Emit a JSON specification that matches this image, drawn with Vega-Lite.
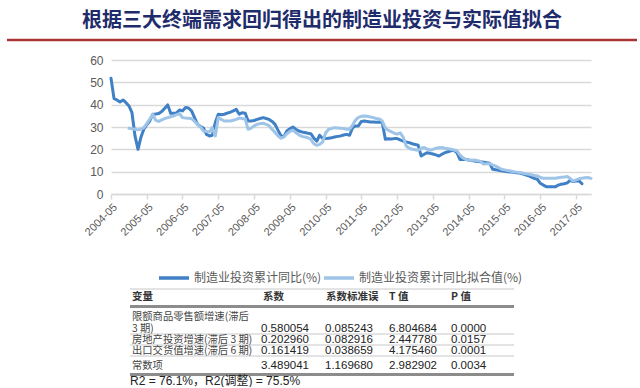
{
  "$schema": "https://vega.github.io/schema/vega-lite/v6.json",
  "padding": {"left": 5, "right": 5, "top": 10, "bottom": 0},
  "background": "white",
  "title": {"text": "根据三大终端需求回归得出的制造业投资与实际值拟合", "font": "Noto Sans CJK SC", "fontSize": 20, "fontWeight": "bold", "color": "#1F2C6B", "anchor": "middle", "offset": 8},
  "config": {"view": {"stroke": null}},
  "spacing": 7,
  "datasets": {
    "lines": [
      {"m": "2004-05", "制造业投资累计同比(%)": 51.8},
      {"m": "2004-06", "制造业投资累计同比(%)": 42.7},
      {"m": "2004-07", "制造业投资累计同比(%)": 42.1},
      {"m": "2004-08", "制造业投资累计同比(%)": 41.2},
      {"m": "2004-09", "制造业投资累计同比(%)": 42.1},
      {"m": "2004-10", "制造业投资累计同比(%)": 40.9},
      {"m": "2004-11", "制造业投资累计同比(%)": 39.4, "制造业投资累计同比拟合值(%)": 29.4},
      {"m": "2004-12", "制造业投资累计同比(%)": 36.4, "制造业投资累计同比拟合值(%)": 29.2},
      {"m": "2005-01", "制造业投资累计同比(%)": 26.0, "制造业投资累计同比拟合值(%)": 29.0},
      {"m": "2005-02", "制造业投资累计同比(%)": 20.0, "制造业投资累计同比拟合值(%)": 28.7},
      {"m": "2005-03", "制造业投资累计同比(%)": 25.2, "制造业投资累计同比拟合值(%)": 29.0},
      {"m": "2005-04", "制造业投资累计同比(%)": 29.0, "制造业投资累计同比拟合值(%)": 29.7},
      {"m": "2005-05", "制造业投资累计同比(%)": 31.0, "制造业投资累计同比拟合值(%)": 31.5},
      {"m": "2005-06", "制造业投资累计同比(%)": 32.7, "制造业投资累计同比拟合值(%)": 33.5},
      {"m": "2005-07", "制造业投资累计同比(%)": 35.7, "制造业投资累计同比拟合值(%)": 35.7},
      {"m": "2005-08", "制造业投资累计同比(%)": 35.8, "制造业投资累计同比拟合值(%)": 33.0},
      {"m": "2005-09", "制造业投资累计同比(%)": 36.0, "制造业投资累计同比拟合值(%)": 32.5},
      {"m": "2005-10", "制造业投资累计同比(%)": 36.9, "制造业投资累计同比拟合值(%)": 33.2},
      {"m": "2005-11", "制造业投资累计同比(%)": 38.4, "制造业投资累计同比拟合值(%)": 33.8},
      {"m": "2005-12", "制造业投资累计同比(%)": 39.9, "制造业投资累计同比拟合值(%)": 34.2},
      {"m": "2006-01", "制造业投资累计同比(%)": 36.1, "制造业投资累计同比拟合值(%)": 34.6},
      {"m": "2006-02", "制造业投资累计同比(%)": 36.2, "制造业投资累计同比拟合值(%)": 35.0},
      {"m": "2006-03", "制造业投资累计同比(%)": 36.3, "制造业投资累计同比拟合值(%)": 35.5},
      {"m": "2006-04", "制造业投资累计同比(%)": 37.6, "制造业投资累计同比拟合值(%)": 36.0},
      {"m": "2006-05", "制造业投资累计同比(%)": 37.2, "制造业投资累计同比拟合值(%)": 34.2},
      {"m": "2006-06", "制造业投资累计同比(%)": 38.7, "制造业投资累计同比拟合值(%)": 34.0},
      {"m": "2006-07", "制造业投资累计同比(%)": 38.5, "制造业投资累计同比拟合值(%)": 33.9},
      {"m": "2006-08", "制造业投资累计同比(%)": 37.2, "制造业投资累计同比拟合值(%)": 33.8},
      {"m": "2006-09", "制造业投资累计同比(%)": 34.2, "制造业投资累计同比拟合值(%)": 32.5},
      {"m": "2006-10", "制造业投资累计同比(%)": 31.2, "制造业投资累计同比拟合值(%)": 31.2},
      {"m": "2006-11", "制造业投资累计同比(%)": 30.2, "制造业投资累计同比拟合值(%)": 30.0},
      {"m": "2006-12", "制造业投资累计同比(%)": 29.5, "制造业投资累计同比拟合值(%)": 28.2},
      {"m": "2007-01", "制造业投资累计同比(%)": 26.7, "制造业投资累计同比拟合值(%)": 28.0},
      {"m": "2007-02", "制造业投资累计同比(%)": 26.0, "制造业投资累计同比拟合值(%)": 27.9},
      {"m": "2007-03", "制造业投资累计同比(%)": 26.3, "制造业投资累计同比拟合值(%)": 29.7},
      {"m": "2007-04", "制造业投资累计同比(%)": 32.0, "制造业投资累计同比拟合值(%)": 26.0},
      {"m": "2007-05", "制造业投资累计同比(%)": 35.7, "制造业投资累计同比拟合值(%)": 34.2},
      {"m": "2007-06", "制造业投资累计同比(%)": 35.5, "制造业投资累计同比拟合值(%)": 33.4},
      {"m": "2007-07", "制造业投资累计同比(%)": 35.7, "制造业投资累计同比拟合值(%)": 32.7},
      {"m": "2007-08", "制造业投资累计同比(%)": 36.2, "制造业投资累计同比拟合值(%)": 32.7},
      {"m": "2007-09", "制造业投资累计同比(%)": 36.6, "制造业投资累计同比拟合值(%)": 32.7},
      {"m": "2007-10", "制造业投资累计同比(%)": 37.2, "制造业投资累计同比拟合值(%)": 33.0},
      {"m": "2007-11", "制造业投资累计同比(%)": 37.9, "制造业投资累计同比拟合值(%)": 33.4},
      {"m": "2007-12", "制造业投资累计同比(%)": 35.7, "制造业投资累计同比拟合值(%)": 34.0},
      {"m": "2008-01", "制造业投资累计同比(%)": 36.4, "制造业投资累计同比拟合值(%)": 33.8},
      {"m": "2008-02", "制造业投资累计同比(%)": 36.2, "制造业投资累计同比拟合值(%)": 33.5},
      {"m": "2008-03", "制造业投资累计同比(%)": 32.7, "制造业投资累计同比拟合值(%)": 29.0},
      {"m": "2008-04", "制造业投资累计同比(%)": 32.7, "制造业投资累计同比拟合值(%)": 29.5},
      {"m": "2008-05", "制造业投资累计同比(%)": 32.9, "制造业投资累计同比拟合值(%)": 30.5},
      {"m": "2008-06", "制造业投资累计同比(%)": 33.4, "制造业投资累计同比拟合值(%)": 31.2},
      {"m": "2008-07", "制造业投资累计同比(%)": 33.8, "制造业投资累计同比拟合值(%)": 31.5},
      {"m": "2008-08", "制造业投资累计同比(%)": 34.2, "制造业投资累计同比拟合值(%)": 31.7},
      {"m": "2008-09", "制造业投资累计同比(%)": 33.8, "制造业投资累计同比拟合值(%)": 31.2},
      {"m": "2008-10", "制造业投资累计同比(%)": 33.4, "制造业投资累计同比拟合值(%)": 30.6},
      {"m": "2008-11", "制造业投资累计同比(%)": 32.5, "制造业投资累计同比拟合值(%)": 29.0},
      {"m": "2008-12", "制造业投资累计同比(%)": 31.2, "制造业投资累计同比拟合值(%)": 27.5},
      {"m": "2009-01", "制造业投资累计同比(%)": 28.5, "制造业投资累计同比拟合值(%)": 26.0},
      {"m": "2009-02", "制造业投资累计同比(%)": 26.0, "制造业投资累计同比拟合值(%)": 25.0},
      {"m": "2009-03", "制造业投资累计同比(%)": 25.7, "制造业投资累计同比拟合值(%)": 25.5},
      {"m": "2009-04", "制造业投资累计同比(%)": 28.2, "制造业投资累计同比拟合值(%)": 27.0},
      {"m": "2009-05", "制造业投资累计同比(%)": 29.2, "制造业投资累计同比拟合值(%)": 28.0},
      {"m": "2009-06", "制造业投资累计同比(%)": 30.0, "制造业投资累计同比拟合值(%)": 28.6},
      {"m": "2009-07", "制造业投资累计同比(%)": 29.0, "制造业投资累计同比拟合值(%)": 27.5},
      {"m": "2009-08", "制造业投资累计同比(%)": 28.2, "制造业投资累计同比拟合值(%)": 26.5},
      {"m": "2009-09", "制造业投资累计同比(%)": 27.8, "制造业投资累计同比拟合值(%)": 25.8},
      {"m": "2009-10", "制造业投资累计同比(%)": 27.5, "制造业投资累计同比拟合值(%)": 25.5},
      {"m": "2009-11", "制造业投资累计同比(%)": 27.2, "制造业投资累计同比拟合值(%)": 25.2},
      {"m": "2009-12", "制造业投资累计同比(%)": 27.0, "制造业投资累计同比拟合值(%)": 24.5},
      {"m": "2010-01", "制造业投资累计同比(%)": 25.0, "制造业投资累计同比拟合值(%)": 22.5},
      {"m": "2010-02", "制造业投资累计同比(%)": 23.7, "制造业投资累计同比拟合值(%)": 21.8},
      {"m": "2010-03", "制造业投资累计同比(%)": 26.3, "制造业投资累计同比拟合值(%)": 22.2},
      {"m": "2010-04", "制造业投资累计同比(%)": 24.8, "制造业投资累计同比拟合值(%)": 23.3},
      {"m": "2010-05", "制造业投资累计同比(%)": 24.8, "制造业投资累计同比拟合值(%)": 27.3},
      {"m": "2010-06", "制造业投资累计同比(%)": 25.0, "制造业投资累计同比拟合值(%)": 29.0},
      {"m": "2010-07", "制造业投资累计同比(%)": 25.2, "制造业投资累计同比拟合值(%)": 29.3},
      {"m": "2010-08", "制造业投资累计同比(%)": 25.5, "制造业投资累计同比拟合值(%)": 29.7},
      {"m": "2010-09", "制造业投资累计同比(%)": 25.8, "制造业投资累计同比拟合值(%)": 29.6},
      {"m": "2010-10", "制造业投资累计同比(%)": 26.0, "制造业投资累计同比拟合值(%)": 29.4},
      {"m": "2010-11", "制造业投资累计同比(%)": 26.4, "制造业投资累计同比拟合值(%)": 29.3},
      {"m": "2010-12", "制造业投资累计同比(%)": 26.7, "制造业投资累计同比拟合值(%)": 29.0},
      {"m": "2011-01", "制造业投资累计同比(%)": 26.3, "制造业投资累计同比拟合值(%)": 29.0},
      {"m": "2011-02", "制造业投资累计同比(%)": 29.7, "制造业投资累计同比拟合值(%)": 30.8},
      {"m": "2011-03", "制造业投资累计同比(%)": 30.5, "制造业投资累计同比拟合值(%)": 33.0},
      {"m": "2011-04", "制造业投资累计同比(%)": 30.5, "制造业投资累计同比拟合值(%)": 34.3},
      {"m": "2011-05", "制造业投资累计同比(%)": 32.5, "制造业投资累计同比拟合值(%)": 34.8},
      {"m": "2011-06", "制造业投资累计同比(%)": 32.7, "制造业投资累计同比拟合值(%)": 34.9},
      {"m": "2011-07", "制造业投资累计同比(%)": 32.5, "制造业投资累计同比拟合值(%)": 34.8},
      {"m": "2011-08", "制造业投资累计同比(%)": 32.2, "制造业投资累计同比拟合值(%)": 34.5},
      {"m": "2011-09", "制造业投资累计同比(%)": 32.2, "制造业投资累计同比拟合值(%)": 34.2},
      {"m": "2011-10", "制造业投资累计同比(%)": 32.1, "制造业投资累计同比拟合值(%)": 33.8},
      {"m": "2011-11", "制造业投资累计同比(%)": 32.2, "制造业投资累计同比拟合值(%)": 33.6},
      {"m": "2011-12", "制造业投资累计同比(%)": 32.0, "制造业投资累计同比拟合值(%)": 32.7},
      {"m": "2012-01", "制造业投资累计同比(%)": 24.5, "制造业投资累计同比拟合值(%)": 29.5},
      {"m": "2012-02", "制造业投资累计同比(%)": 24.7, "制造业投资累计同比拟合值(%)": 28.5},
      {"m": "2012-03", "制造业投资累计同比(%)": 24.6, "制造业投资累计同比拟合值(%)": 27.9},
      {"m": "2012-04", "制造业投资累计同比(%)": 24.8, "制造业投资累计同比拟合值(%)": 27.2},
      {"m": "2012-05", "制造业投资累计同比(%)": 24.8, "制造业投资累计同比拟合值(%)": 26.8},
      {"m": "2012-06", "制造业投资累计同比(%)": 24.2, "制造业投资累计同比拟合值(%)": 27.4},
      {"m": "2012-07", "制造业投资累计同比(%)": 23.7, "制造业投资累计同比拟合值(%)": 25.5},
      {"m": "2012-08", "制造业投资累计同比(%)": 23.3, "制造业投资累计同比拟合值(%)": 21.5},
      {"m": "2012-09", "制造业投资累计同比(%)": 23.0, "制造业投资累计同比拟合值(%)": 20.5},
      {"m": "2012-10", "制造业投资累计同比(%)": 22.5, "制造业投资累计同比拟合值(%)": 20.0},
      {"m": "2012-11", "制造业投资累计同比(%)": 22.2, "制造业投资累计同比拟合值(%)": 19.8},
      {"m": "2012-12", "制造业投资累计同比(%)": 21.9, "制造业投资累计同比拟合值(%)": 19.6},
      {"m": "2013-01", "制造业投资累计同比(%)": 17.0, "制造业投资累计同比拟合值(%)": 20.5},
      {"m": "2013-02", "制造业投资累计同比(%)": 17.8, "制造业投资累计同比拟合值(%)": 20.8},
      {"m": "2013-03", "制造业投资累计同比(%)": 18.5, "制造业投资累计同比拟合值(%)": 20.2},
      {"m": "2013-04", "制造业投资累计同比(%)": 18.2, "制造业投资累计同比拟合值(%)": 19.6},
      {"m": "2013-05", "制造业投资累计同比(%)": 17.9, "制造业投资累计同比拟合值(%)": 20.0},
      {"m": "2013-06", "制造业投资累计同比(%)": 17.5, "制造业投资累计同比拟合值(%)": 20.5},
      {"m": "2013-07", "制造业投资累计同比(%)": 17.0, "制造业投资累计同比拟合值(%)": 20.7},
      {"m": "2013-08", "制造业投资累计同比(%)": 17.8, "制造业投资累计同比拟合值(%)": 20.8},
      {"m": "2013-09", "制造业投资累计同比(%)": 18.5, "制造业投资累计同比拟合值(%)": 20.5},
      {"m": "2013-10", "制造业投资累计同比(%)": 18.9, "制造业投资累计同比拟合值(%)": 20.3},
      {"m": "2013-11", "制造业投资累计同比(%)": 19.3, "制造业投资累计同比拟合值(%)": 20.0},
      {"m": "2013-12", "制造业投资累计同比(%)": 19.6, "制造业投资累计同比拟合值(%)": 19.7},
      {"m": "2014-01", "制造业投资累计同比(%)": 18.5, "制造业投资累计同比拟合值(%)": 19.3},
      {"m": "2014-02", "制造业投资累计同比(%)": 15.5, "制造业投资累计同比拟合值(%)": 17.5},
      {"m": "2014-03", "制造业投资累计同比(%)": 15.5, "制造业投资累计同比拟合值(%)": 16.3},
      {"m": "2014-04", "制造业投资累计同比(%)": 15.5, "制造业投资累计同比拟合值(%)": 15.5},
      {"m": "2014-05", "制造业投资累计同比(%)": 15.2, "制造业投资累计同比拟合值(%)": 15.0},
      {"m": "2014-06", "制造业投资累计同比(%)": 15.0, "制造业投资累计同比拟合值(%)": 15.1},
      {"m": "2014-07", "制造业投资累计同比(%)": 14.8, "制造业投资累计同比拟合值(%)": 15.2},
      {"m": "2014-08", "制造业投资累计同比(%)": 14.6, "制造业投资累计同比拟合值(%)": 14.9},
      {"m": "2014-09", "制造业投资累计同比(%)": 14.4, "制造业投资累计同比拟合值(%)": 14.6},
      {"m": "2014-10", "制造业投资累计同比(%)": 14.2, "制造业投资累计同比拟合值(%)": 13.4},
      {"m": "2014-11", "制造业投资累计同比(%)": 14.0, "制造业投资累计同比拟合值(%)": 13.5},
      {"m": "2014-12", "制造业投资累计同比(%)": 13.8, "制造业投资累计同比拟合值(%)": 13.6},
      {"m": "2015-01", "制造业投资累计同比(%)": 11.1, "制造业投资累计同比拟合值(%)": 13.0},
      {"m": "2015-02", "制造业投资累计同比(%)": 10.9, "制造业投资累计同比拟合值(%)": 12.5},
      {"m": "2015-03", "制造业投资累计同比(%)": 10.6, "制造业投资累计同比拟合值(%)": 11.8},
      {"m": "2015-04", "制造业投资累计同比(%)": 10.4, "制造业投资累计同比拟合值(%)": 11.1},
      {"m": "2015-05", "制造业投资累计同比(%)": 10.2, "制造业投资累计同比拟合值(%)": 10.8},
      {"m": "2015-06", "制造业投资累计同比(%)": 10.0, "制造业投资累计同比拟合值(%)": 10.5},
      {"m": "2015-07", "制造业投资累计同比(%)": 9.9, "制造业投资累计同比拟合值(%)": 10.3},
      {"m": "2015-08", "制造业投资累计同比(%)": 9.7, "制造业投资累计同比拟合值(%)": 10.0},
      {"m": "2015-09", "制造业投资累计同比(%)": 9.5, "制造业投资累计同比拟合值(%)": 9.8},
      {"m": "2015-10", "制造业投资累计同比(%)": 9.4, "制造业投资累计同比拟合值(%)": 9.6},
      {"m": "2015-11", "制造业投资累计同比(%)": 9.0, "制造业投资累计同比拟合值(%)": 9.4},
      {"m": "2015-12", "制造业投资累计同比(%)": 8.6, "制造业投资累计同比拟合值(%)": 9.1},
      {"m": "2016-01", "制造业投资累计同比(%)": 8.2, "制造业投资累计同比拟合值(%)": 8.9},
      {"m": "2016-02", "制造业投资累计同比(%)": 7.6, "制造业投资累计同比拟合值(%)": 8.6},
      {"m": "2016-03", "制造业投资累计同比(%)": 7.0, "制造业投资累计同比拟合值(%)": 8.3},
      {"m": "2016-04", "制造业投资累计同比(%)": 6.6, "制造业投资累计同比拟合值(%)": 8.1},
      {"m": "2016-05", "制造业投资累计同比(%)": 4.8, "制造业投资累计同比拟合值(%)": 7.5},
      {"m": "2016-06", "制造业投资累计同比(%)": 4.0, "制造业投资累计同比拟合值(%)": 7.0},
      {"m": "2016-07", "制造业投资累计同比(%)": 3.3, "制造业投资累计同比拟合值(%)": 7.0},
      {"m": "2016-08", "制造业投资累计同比(%)": 3.2, "制造业投资累计同比拟合值(%)": 7.0},
      {"m": "2016-09", "制造业投资累计同比(%)": 3.2, "制造业投资累计同比拟合值(%)": 7.0},
      {"m": "2016-10", "制造业投资累计同比(%)": 3.2, "制造业投资累计同比拟合值(%)": 7.1},
      {"m": "2016-11", "制造业投资累计同比(%)": 4.0, "制造业投资累计同比拟合值(%)": 7.3},
      {"m": "2016-12", "制造业投资累计同比(%)": 4.4, "制造业投资累计同比拟合值(%)": 7.5},
      {"m": "2017-01", "制造业投资累计同比(%)": 4.6, "制造业投资累计同比拟合值(%)": 7.6},
      {"m": "2017-02", "制造业投资累计同比(%)": 5.0, "制造业投资累计同比拟合值(%)": 7.8},
      {"m": "2017-03", "制造业投资累计同比(%)": 6.1, "制造业投资累计同比拟合值(%)": 7.0},
      {"m": "2017-04", "制造业投资累计同比(%)": 5.6, "制造业投资累计同比拟合值(%)": 5.8},
      {"m": "2017-05", "制造业投资累计同比(%)": 5.8, "制造业投资累计同比拟合值(%)": 6.3},
      {"m": "2017-06", "制造业投资累计同比(%)": 5.9, "制造业投资累计同比拟合值(%)": 6.8},
      {"m": "2017-07", "制造业投资累计同比(%)": 4.6, "制造业投资累计同比拟合值(%)": 7.1},
      {"m": "2017-08", "制造业投资累计同比拟合值(%)": 7.3},
      {"m": "2017-09", "制造业投资累计同比拟合值(%)": 7.4},
      {"m": "2017-10", "制造业投资累计同比拟合值(%)": 7.0}
    ],
    "cells": [
      {"line": 1, "col": 0, "t": "变量"},
      {"line": 1, "col": 1, "t": "系数"},
      {"line": 1, "col": 2, "t": "系数标准误"},
      {"line": 1, "col": 3, "t": "T 值"},
      {"line": 1, "col": 4, "t": "P 值"},
      {"line": 3, "col": 0, "t": "限额商品零售额增速(滞后"},
      {"line": 4, "col": 0, "t": "3 期)"},
      {"line": 4, "col": 1, "t": "0.580054"},
      {"line": 4, "col": 2, "t": "0.085243"},
      {"line": 4, "col": 3, "t": "6.804684"},
      {"line": 4, "col": 4, "t": "0.0000"},
      {"line": 6, "col": 0, "t": "房地产投资增速(滞后 3 期)"},
      {"line": 6, "col": 1, "t": "0.202960"},
      {"line": 6, "col": 2, "t": "0.082916"},
      {"line": 6, "col": 3, "t": "2.447780"},
      {"line": 6, "col": 4, "t": "0.0157"},
      {"line": 8, "col": 0, "t": "出口交货值增速(滞后 6 期)"},
      {"line": 8, "col": 1, "t": "0.161419"},
      {"line": 8, "col": 2, "t": "0.038659"},
      {"line": 8, "col": 3, "t": "4.175460"},
      {"line": 8, "col": 4, "t": "0.0001"},
      {"line": 10, "col": 0, "t": "常数项"},
      {"line": 10, "col": 1, "t": "3.489041"},
      {"line": 10, "col": 2, "t": "1.169680"},
      {"line": 10, "col": 3, "t": "2.982902"},
      {"line": 10, "col": 4, "t": "0.0034"},
      {"line": 12, "col": 0, "t": "R2 = 76.1%，R2(调整) = 75.5%"}
    ],
    "rules": [
      {"line": 0}, {"line": 2}, {"line": 5}, {"line": 7}, {"line": 9}, {"line": 11}
    ]
  },
  "vconcat": [
    {
      "width": 526,
      "height": 7,
      "data": {"values": [{}]},
      "mark": {"type": "rule", "color": "#A93434", "strokeWidth": 2.5},
      "encoding": {
        "x": {"datum": 0, "type": "quantitative", "scale": {"domain": [0, 1], "range": [-104, 526]}, "axis": null},
        "x2": {"datum": 1},
        "y": {"datum": 1, "type": "quantitative", "scale": {"domain": [0, 1]}, "axis": null}
      }
    },
    {
      "width": 480,
      "height": 134,
      "data": {"name": "lines", "format": {"parse": {"m": "utc:'%Y-%m'"}}},
      "transform": [
        {"fold": ["制造业投资累计同比(%)", "制造业投资累计同比拟合值(%)"], "as": ["series", "v"]},
        {"filter": "isValid(datum.v)"}
      ],
      "mark": {"type": "line", "strokeWidth": 3, "strokeJoin": "round", "strokeCap": "round"},
      "encoding": {
        "x": {
          "field": "m", "type": "temporal",
          "scale": {"type": "utc", "domain": [{"year": 2004, "month": 5, "date": 1, "utc": true}, {"year": 2017, "month": 10, "date": 1, "utc": true}]},
          "axis": {
            "values": [
              {"year": 2004, "month": 5, "date": 1, "utc": true},
              {"year": 2005, "month": 5, "date": 1, "utc": true},
              {"year": 2006, "month": 5, "date": 1, "utc": true},
              {"year": 2007, "month": 5, "date": 1, "utc": true},
              {"year": 2008, "month": 5, "date": 1, "utc": true},
              {"year": 2009, "month": 5, "date": 1, "utc": true},
              {"year": 2010, "month": 5, "date": 1, "utc": true},
              {"year": 2011, "month": 5, "date": 1, "utc": true},
              {"year": 2012, "month": 5, "date": 1, "utc": true},
              {"year": 2013, "month": 5, "date": 1, "utc": true},
              {"year": 2014, "month": 5, "date": 1, "utc": true},
              {"year": 2015, "month": 5, "date": 1, "utc": true},
              {"year": 2016, "month": 5, "date": 1, "utc": true},
              {"year": 2017, "month": 5, "date": 1, "utc": true}
            ],
            "format": "%Y-%m",
            "labelAngle": -45, "labelFont": "Liberation Sans", "labelFontSize": 11, "labelColor": "#595959",
            "labelOverlap": false, "labelPadding": 2,
            "domainColor": "#D9D9D9", "domainWidth": 1.5,
            "tickColor": "#D9D9D9", "tickWidth": 1.5, "tickSize": 5,
            "grid": false, "title": null
          }
        },
        "y": {
          "field": "v", "type": "quantitative",
          "scale": {"domain": [0, 60], "nice": false},
          "axis": {
            "values": [0, 10, 20, 30, 40, 50, 60],
            "domain": false, "ticks": false, "grid": true, "gridColor": "#D9D9D9", "gridWidth": 1.5,
            "labelFont": "Liberation Sans", "labelFontSize": 12, "labelColor": "#595959", "labelPadding": 8,
            "title": null, "minExtent": 104
          }
        },
        "color": {
          "field": "series", "type": "nominal",
          "scale": {"domain": ["制造业投资累计同比(%)", "制造业投资累计同比拟合值(%)"], "range": ["#3F80C6", "#9EC4E8"]},
          "legend": {
            "orient": "none", "legendX": 46, "legendY": 221, "direction": "horizontal", "title": null,
            "symbolType": "stroke", "symbolSize": 900, "symbolStrokeWidth": 3.5,
            "labelFont": "Noto Sans CJK SC", "labelFontSize": 12, "labelColor": "#595959",
            "labelLimit": 300, "columnPadding": -13, "labelOffset": 3
          }
        }
      }
    },
    {
      "width": 403,
      "height": 92,
      "resolve": {"scale": {"x": "independent"}, "axis": {"x": "independent"}},
      "layer": [
        {
          "data": {"name": "rules"},
          "transform": [{"filter": "datum.line == 2 || datum.line == 11"}],
          "mark": {"type": "rule", "color": "#8C8C8C", "strokeWidth": 3},
          "encoding": {
            "x": {"datum": 0, "type": "quantitative", "scale": {"domain": [0, 1], "range": [19, 403]}, "axis": null},
            "x2": {"datum": 1},
            "y": {"field": "line", "type": "quantitative", "scale": {"domain": [0, 1, 2, 3, 4, 5, 6, 7, 8, 9, 10, 11, 12], "range": [0, 7.5, 17.5, 28, 40, 45, 51, 56, 61.5, 67, 77, 85.5, 92], "nice": false, "zero": false}, "axis": null}
          }
        },
        {
          "data": {"name": "rules"},
          "transform": [{"filter": "datum.line != 2 && datum.line != 11"}],
          "mark": {"type": "rule", "color": "#C8C8C8", "strokeWidth": 1},
          "encoding": {
            "x": {"datum": 0, "type": "quantitative", "scale": {"domain": [0, 1], "range": [19, 403]}, "axis": null},
            "x2": {"datum": 1},
            "y": {"field": "line", "type": "quantitative"}
          }
        },
        {
          "data": {"name": "cells"},
          "transform": [{"filter": "datum.line == 1"}],
          "mark": {"type": "text", "align": "left", "baseline": "middle", "font": "Noto Sans CJK SC", "fontWeight": "bold", "fontSize": 10.5, "color": "#333333"},
          "encoding": {
            "x": {"field": "col", "type": "quantitative", "scale": {"domain": [0, 1, 2, 3, 4], "range": [21, 152, 215, 278, 340], "nice": false, "zero": false}, "axis": {"orient": "top", "labels": false, "ticks": false, "domain": false, "grid": false, "title": null, "minExtent": 44}},
            "y": {"field": "line", "type": "quantitative"},
            "text": {"field": "t"}
          }
        },
        {
          "data": {"name": "cells"},
          "transform": [{"filter": "datum.col == 0 && datum.line >= 3 && datum.line <= 10"}],
          "mark": {"type": "text", "align": "left", "baseline": "middle", "font": "Noto Sans CJK SC", "fontSize": 10.3, "color": "#444444"},
          "encoding": {
            "x": {"field": "col", "type": "quantitative", "scale": {"domain": [0, 1, 2, 3, 4], "range": [21, 150, 214, 278, 340], "nice": false, "zero": false}, "axis": null},
            "y": {"field": "line", "type": "quantitative"},
            "text": {"field": "t"}
          }
        },
        {
          "data": {"name": "cells"},
          "transform": [{"filter": "datum.col > 0 && datum.line >= 3 && datum.line <= 10"}],
          "mark": {"type": "text", "align": "left", "baseline": "middle", "font": "Liberation Sans", "fontSize": 11.5, "color": "#222222"},
          "encoding": {
            "x": {"field": "col", "type": "quantitative", "scale": {"domain": [0, 1, 2, 3, 4], "range": [21, 150, 214, 278, 340], "nice": false, "zero": false}, "axis": null},
            "y": {"field": "line", "type": "quantitative"},
            "text": {"field": "t"}
          }
        },
        {
          "data": {"name": "cells"},
          "transform": [{"filter": "datum.line == 12"}],
          "mark": {"type": "text", "align": "left", "baseline": "middle", "font": "Liberation Sans, Noto Sans CJK SC", "fontSize": 12, "color": "#222222"},
          "encoding": {
            "x": {"field": "col", "type": "quantitative", "scale": {"domain": [0, 1, 2, 3, 4], "range": [19, 150, 214, 278, 340], "nice": false, "zero": false}, "axis": null},
            "y": {"field": "line", "type": "quantitative"},
            "text": {"field": "t"}
          }
        }
      ]
    }
  ]
}
